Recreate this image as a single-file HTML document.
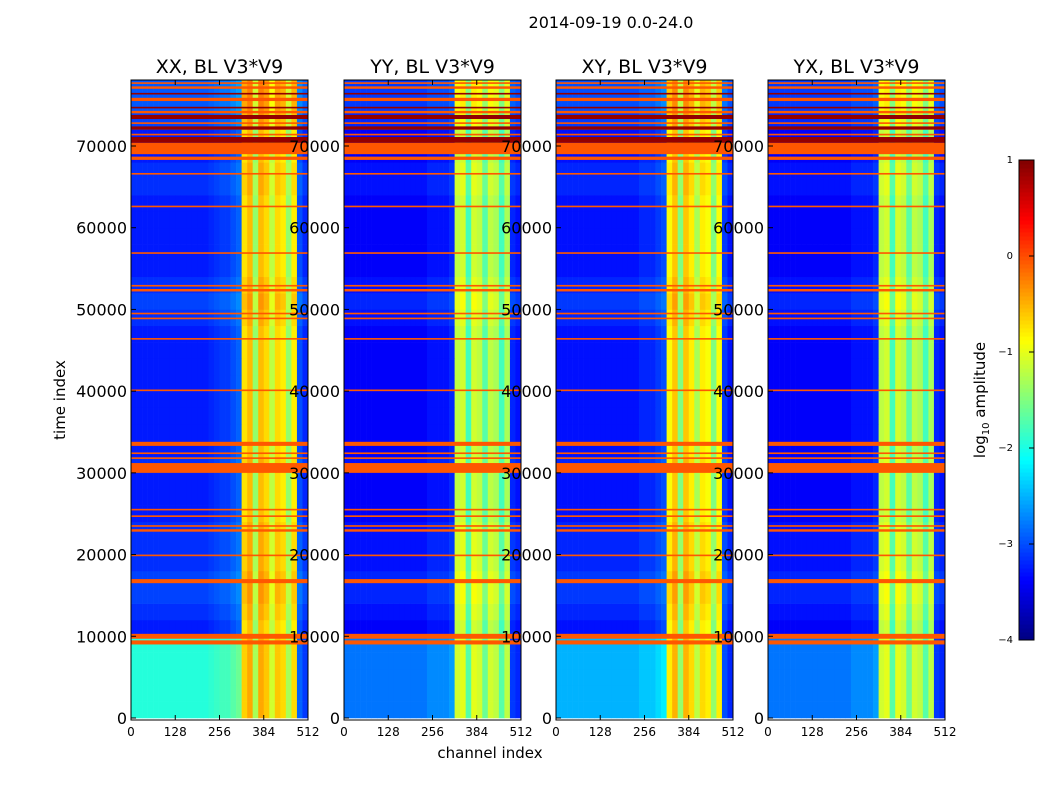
<!DOCTYPE html>
<html><head><meta charset="utf-8"><style>
body{margin:0;background:#fff;}
svg{display:block;font-family:"DejaVu Sans","Liberation Sans",sans-serif;}
</style></head><body>
<svg id="chart" width="1050" height="800"></svg>
<script>
// ---- data ----
const panelTitles = ["XX, BL V3*V9","YY, BL V3*V9","XY, BL V3*V9","YX, BL V3*V9"];
const channelBins = [0,16,32,48,64,80,96,112,128,144,160,176,192,208,224,240,256,272,288,304,320,336,352,368,384,400,416,432,448,464,480,496];
const profileXX = [-3.25,-3.25,-3.25,-3.25,-3.25,-3.25,-3.25,-3.25,-3.25,-3.25,-3.25,-3.25,-3.25,-3.25,-3.2,-3.15,-3.1,-3.1,-3.0,-2.9,-0.75,-0.55,-1.4,-0.55,-0.7,-1.2,-0.7,-0.8,-1.4,-0.8,-3.0,-3.2];
const profileYY = [-3.4,-3.4,-3.4,-3.4,-3.4,-3.4,-3.4,-3.4,-3.4,-3.4,-3.4,-3.4,-3.4,-3.4,-3.4,-3.3,-3.3,-3.3,-3.3,-3.2,-1.2,-1.1,-1.8,-1.1,-1.2,-1.7,-1.2,-1.3,-1.8,-1.3,-3.2,-3.3];
const profileXY = [-3.3,-3.3,-3.3,-3.3,-3.3,-3.3,-3.3,-3.3,-3.3,-3.3,-3.3,-3.3,-3.3,-3.3,-3.3,-3.2,-3.2,-3.2,-3.1,-3.0,-0.9,-0.6,-1.5,-0.6,-0.8,-1.3,-0.8,-0.9,-1.5,-0.9,-3.1,-3.3];
const profileYX = [-3.4,-3.4,-3.4,-3.4,-3.4,-3.4,-3.4,-3.4,-3.4,-3.4,-3.4,-3.4,-3.4,-3.4,-3.4,-3.3,-3.3,-3.3,-3.3,-3.2,-1.2,-1.1,-1.8,-1.1,-1.2,-1.7,-1.2,-1.3,-1.8,-1.3,-3.2,-3.3];
const lowTimeBoost = [1.2,0.5,0.7,0.5];
const timeBins = [0,2000,4000,6000,8000,10000,12000,14000,16000,18000,20000,22000,24000,26000,28000,30000,32000,34000,36000,38000,40000,42000,44000,46000,48000,50000,52000,54000,56000,58000,60000,62000,64000,66000,68000,70000,72000,74000,76000];
const timeMod = [0.1,0.1,0.1,0.1,0.1,0,0.1,0.2,0.2,0.1,0.1,0.1,0,0,0,0.1,0,0,0,0,0,0,0,0,0.1,0.2,0.1,0,0,0,0,0,0.1,0.1,0,0,0.2,0.3,0.3];
const flagStart = [9000,9700,16500,19800,22800,23400,24600,25400,30000,31700,32300,33300,40000,46300,48800,49400,52200,52800,56800,62500,66500,68300,69000,70400,71300,72000,72700,73300,74000,74600,75500,76300,77000,77600];
const flagEnd   = [9500,10300,17000,20000,23100,23600,24800,25600,31200,31900,32500,33800,40200,46500,49000,49600,52500,53000,57000,62700,66700,68700,70400,71100,71500,72400,72900,73800,74300,74800,75900,76500,77300,77800];
const flagValue = [-0.05,-0.05,-0.05,-0.05,-0.05,-0.05,-0.05,-0.05,-0.05,-0.05,-0.05,-0.05,-0.05,-0.05,-0.05,-0.05,-0.05,-0.05,-0.05,-0.05,-0.05,-0.05,-0.05,0.9,-0.05,0.9,-0.05,0.9,-0.05,0.9,-0.05,0.9,-0.05,-0.05];
const colorTicks = [1,0,-1,-2,-3,-4];
const yTicks = [0,10000,20000,30000,40000,50000,60000,70000];
const xTicks = [0,128,256,384,512];
// ---- helpers ----
const NS="http://www.w3.org/2000/svg", svg=document.getElementById('chart');
function mk(tag,at,parent){const e=document.createElementNS(NS,tag);for(const k in at)e.setAttribute(k,at[k]);(parent||svg).appendChild(e);return e;}
function jet(v){let x=(v+4)/5;x=Math.max(0,Math.min(1,x));
 const f=(a)=>Math.max(0,Math.min(1,a));
 const r=f(Math.min(4*x-1.5,-4*x+4.5)),g=f(Math.min(4*x-0.5,-4*x+3.5)),b=f(Math.min(4*x+0.5,-4*x+2.5));
 return `rgb(${Math.round(r*255)},${Math.round(g*255)},${Math.round(b*255)})`;}
const panelX=[131,344,556,768], PW=177, PT=80, PB=720;
const tMax=78080;
const yS=t=>PB-2-t*(PB-2-146)/70000;
const profiles=[profileXX,profileYY,profileXY,profileYX];
let t=mk('text',{x:611,y:28,'font-size':16,'text-anchor':'middle'});t.textContent="2014-09-19 0.0-24.0";

panelTitles.forEach((title,p)=>{
 const x0=panelX[p], xS=c=>x0+c*PW/512;
 const g=mk('g',{});
 
 
 timeBins.forEach((tb,ti)=>{
  const tEnd=ti+1<timeBins.length?timeBins[ti+1]:tMax;
  channelBins.forEach((cb,ci)=>{
   let v=profiles[p][ci]+timeMod[ti]+(tb<9000&&ci<20?lowTimeBoost[p]:0);
   const r=mk('rect',{x:xS(cb),y:yS(tEnd),width:PW*16/512+0.3,height:yS(tb)-yS(tEnd)+0.3,fill:jet(v)},g);
   
   
  });
 });
 flagStart.forEach((fs,i)=>{
  const r=mk('rect',{x:x0,y:yS(flagEnd[i]),width:PW,height:Math.max(1.5,yS(fs)-yS(flagEnd[i])),fill:jet(flagValue[i])},g);
  
  
 });
 mk('rect',{x:x0,y:PT,width:PW,height:PB-PT,fill:'none',stroke:'#000','stroke-width':1},g);
 yTicks.forEach(v=>{const y=yS(v);
  mk('line',{x1:x0,x2:x0+5,y1:y,y2:y,stroke:'#000'},g);
  const l=mk('text',{x:x0-4,y:y+6,'font-size':16,'text-anchor':'end'},g);l.textContent=v;
  });
 xTicks.forEach(v=>{const x=xS(v);
  mk('line',{x1:x,x2:x,y1:PB,y2:PB-5,stroke:'#000'},g);mk('line',{x1:x,x2:x,y1:PT,y2:PT+5,stroke:'#000'},g);
  const l=mk('text',{x:x,y:736,'font-size':12,'text-anchor':'middle'},g);l.textContent=v;
  });
 const ti=mk('text',{x:x0+PW/2,y:73,'font-size':19,'text-anchor':'middle'},g);ti.textContent=title;
 
});
t=mk('text',{x:490,y:758,'font-size':15,'text-anchor':'middle'});t.textContent="channel index";

t=mk('text',{x:65,y:400,'font-size':15,'text-anchor':'middle',transform:'rotate(-90 65 400)'});t.textContent="time index";

// colorbar
const cb=mk('g',{});
const cTop=160,cBot=640;const cS=v=>cBot-(v+4)*(cBot-cTop)/5;
for(let i=0;i<120;i++){const v=-4+5*i/120;mk('rect',{x:1019,y:cS(v+5/120),width:15,height:(cBot-cTop)/120+0.5,fill:jet(v+2.5/120)},cb);}
mk('rect',{x:1019,y:cTop,width:15,height:cBot-cTop,fill:'none',stroke:'#000'},cb);
colorTicks.forEach(v=>{const y=cS(v);mk('line',{x1:1029,x2:1034,y1:y,y2:y,stroke:'#000'},cb);
 const l=mk('text',{x:1013,y:y+3,'font-size':10,'text-anchor':'end'},cb);l.textContent=v<0?'\u2212'+(-v):v;
 });
t=mk('text',{x:985,y:400,'font-size':15,'text-anchor':'middle',transform:'rotate(-90 985 400)'},cb);
t.innerHTML='log<tspan font-size="10" dy="4">10</tspan><tspan dy="-4"> amplitude</tspan>';

</script>
</body></html>
